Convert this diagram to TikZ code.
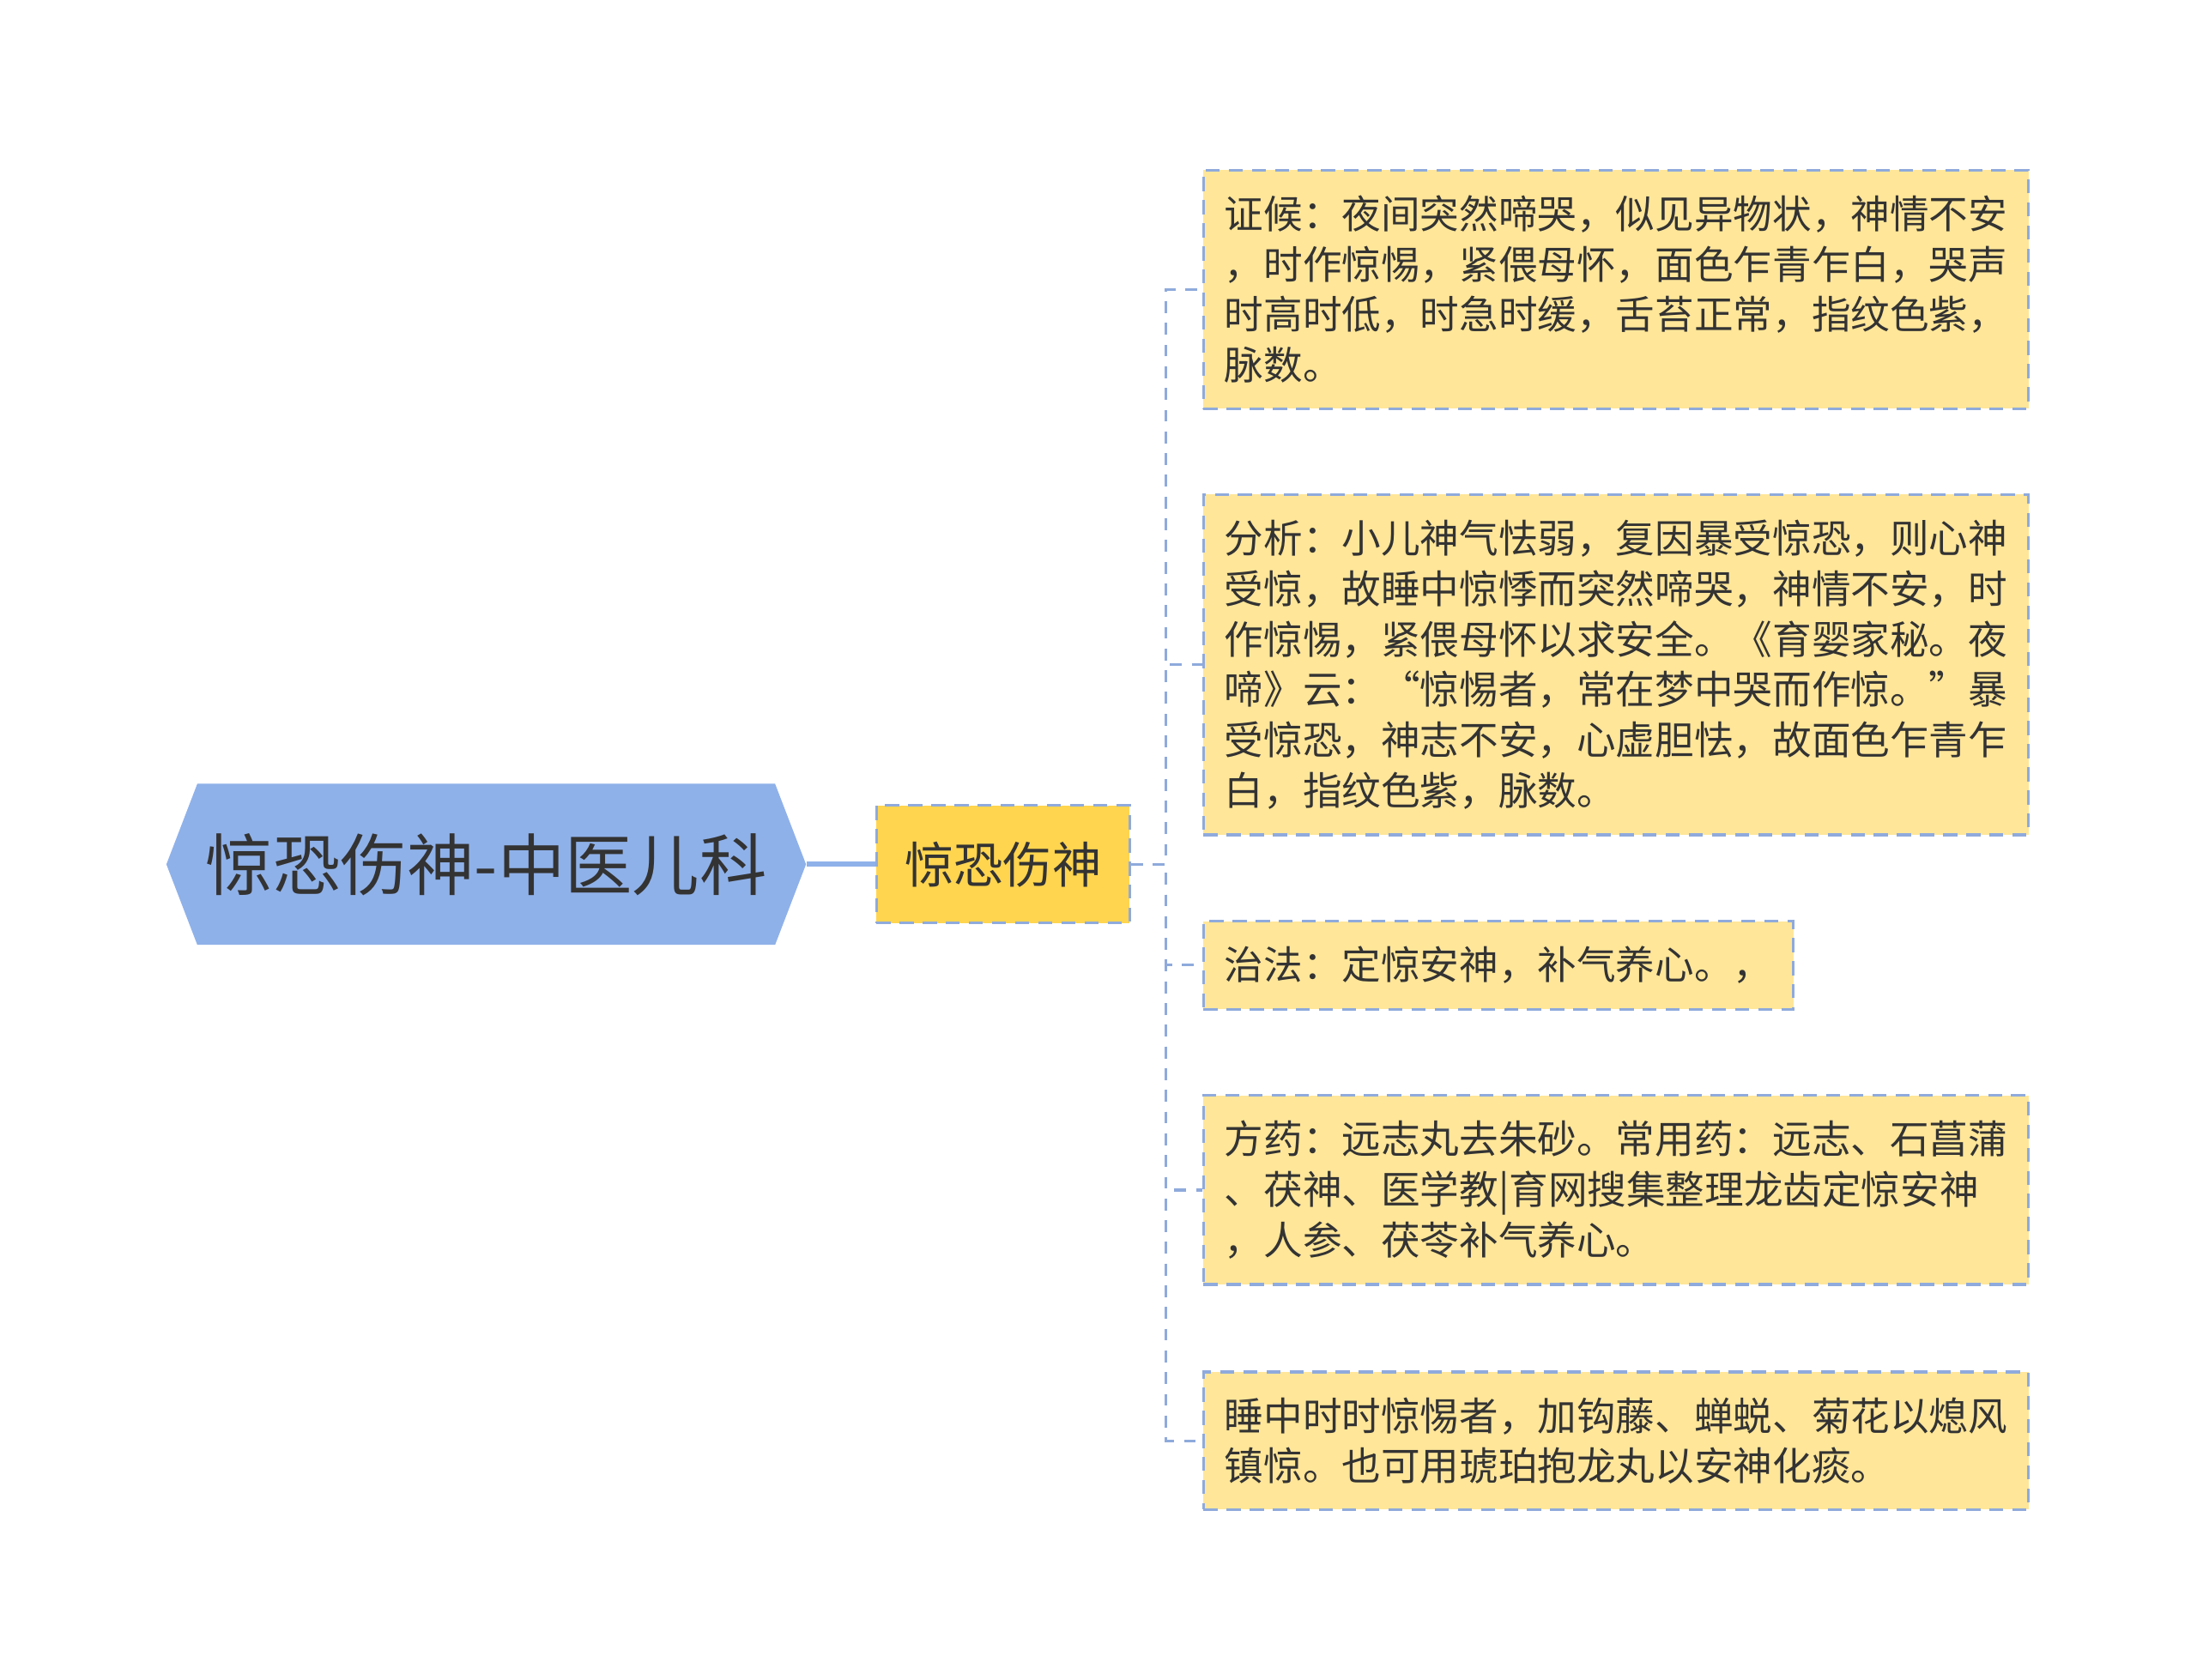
\documentclass[tikz,border=0pt]{standalone}
\usepackage{fontspec}
\setmainfont{Noto Sans CJK SC}
\usepackage{xcolor}
\usetikzlibrary{shapes.symbols,positioning,calc}

\definecolor{rootblue}{HTML}{8FB1E9}
\definecolor{linkblue}{HTML}{8FAADC}
\definecolor{topicgold}{HTML}{FFD54F}
\definecolor{leafyellow}{HTML}{FFE699}
\definecolor{inkgray}{HTML}{333333}

\begin{document}
\begin{tikzpicture}[
    x=0.02cm, y=-0.02cm,
    root/.style={signal, signal to=west and east, signal pointer angle=138, fill=rootblue, text=inkgray, minimum height=2.3cm, inner xsep=0.12cm, font=\fontsize{27.3pt}{30pt}\selectfont},
    topic/.style={rectangle, fill=topicgold, draw=linkblue, line width=1.1pt, dash pattern=on 0.2cm off 0.13cm, text=inkgray, minimum height=1.68cm, inner xsep=0.4cm, font=\fontsize{20pt}{24pt}\selectfont},
    leaf/.style={rectangle, fill=leafyellow, draw=linkblue, line width=1.1pt, dash pattern=on 0.2cm off 0.13cm, align=left, anchor=west, text=inkgray, inner xsep=0.3cm, inner ysep=10.3pt, font=\fontsize{15.9pt}{20.5pt}\selectfont},
    link/.style={draw=linkblue, line width=1.1pt, dash pattern=on 0.17cm off 0.14cm},
    trunk/.style={draw=rootblue, line width=2pt}
]
    \useasboundingbox (0,0) rectangle (1568,1199);

    % Root and topic
    \node[root] (root) at (347,617) {惊恐伤神-中医儿科};
    \node[topic, right=0.98cm of root] (topic) {惊恐伤神};
    \coordinate (spine) at (832,617);

    % Leaves
    \node[leaf] (zhenghou) at (858,206.5) {证候：夜间突然啼哭，似见异物状，神情不安\\，时作惊惕，紧偎母怀，面色乍青乍白，哭声\\时高时低，时急时缓，舌苔正常，指纹色紫，\\脉数。};
    \node[leaf] (fenxi) at (858,474.5) {分析：小儿神气怯弱，复因暴受惊恐，则心神\\受惊，故睡中惊悸而突然啼哭，神情不安，时\\作惊惕，紧偎母怀以求安全。《育婴家秘。夜\\啼》云：“惊惕者，常在梦中哭而作惊。”暴\\受惊恐，神志不安，心虚胆怯，故面色乍青乍\\白，指纹色紫，脉数。};
    \node[leaf] (zhifa) at (858,689) {治法：定惊安神，补气养心。，};
    \node[leaf] (fangyao) at (858,849.5) {方药：远志丸去朱砂。常用药：远志、石菖蒲\\、茯神、医学教|育网搜集整理龙齿定惊安神\\，人参、茯苓补气养心。};
    \node[leaf] (jiajian) at (858,1028.5) {睡中时时惊惕者，加钩藤、蝉蜕、菊花以熄风\\镇惊。也可用琥珀抱龙丸以安神化痰。};

    % Connectors
    \draw[trunk] (root.east) -- (topic.west);
    \draw[link] (topic.east) -- (spine) |- (zhenghou.west);
    \draw[link] (topic.east) -- (spine) |- (fenxi.west);
    \draw[link] (topic.east) -- (spine) |- (zhifa.west);
    \draw[link] (topic.east) -- (spine) |- (fangyao.west);
    \draw[link] (topic.east) -- (spine) |- (jiajian.west);
\end{tikzpicture}
\end{document}
